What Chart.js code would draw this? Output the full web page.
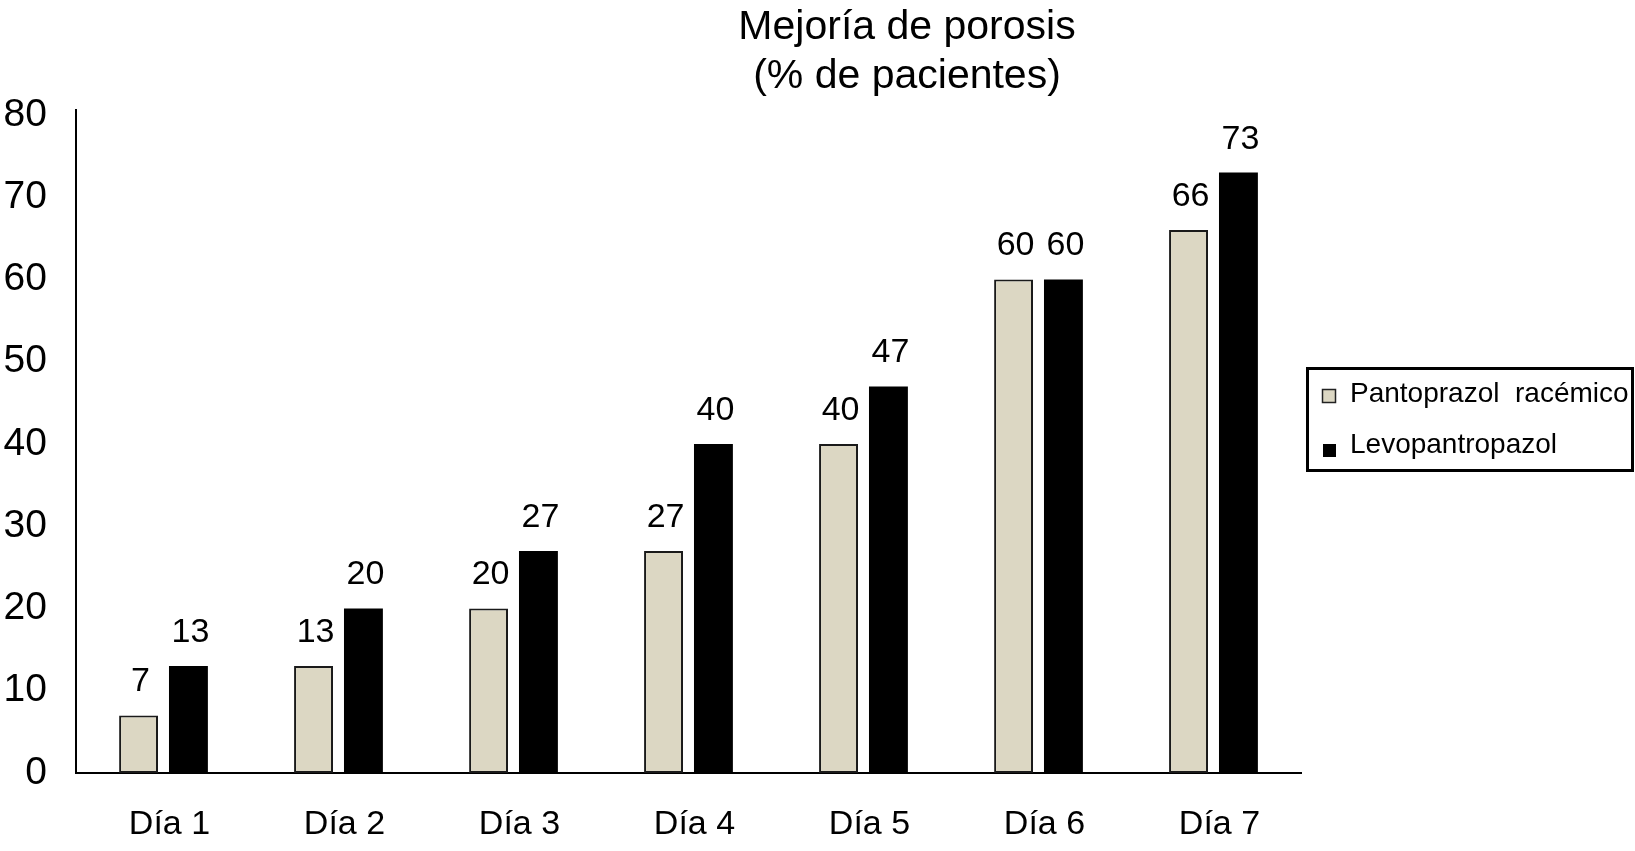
<!DOCTYPE html>
<html>
<head>
<meta charset="utf-8">
<script src="https://cdn.jsdelivr.net/npm/chart.js@4.4.1/dist/chart.umd.min.js"></script>
<style>
html,body{margin:0;padding:0;background:#ffffff;}
#wrap{width:1635px;height:851px;position:relative;}
</style>
</head>
<body>
<div id="wrap"><canvas id="c" width="1635" height="851"></canvas></div>
<script>
// ---- data ----
const categories = ['Día 1', 'Día 2', 'Día 3', 'Día 4', 'Día 5', 'Día 6', 'Día 7'];
const seriesNames = ['Pantoprazol  racémico', 'Levopantropazol'];
const racemicoValues = [7, 13, 20, 27, 40, 60, 66];
const levoValues = [13, 20, 27, 40, 47, 60, 73];
const yTickValues = [0, 10, 20, 30, 40, 50, 60, 70, 80];
const titleLines = ['Mejoría de porosis', '(% de pacientes)'];

// ---- styles ----
const FONT = '"Liberation Sans", Arial, Helvetica, sans-serif';
const paleColor = '#dcd7c3';
const darkColor = '#000000';

const valueLabels = {
  id: 'valueLabels',
  afterDatasetsDraw(chart) {
    const ctx = chart.ctx;
    ctx.save();
    ctx.fillStyle = '#000';
    ctx.font = '34px ' + FONT;
    ctx.textAlign = 'center';
    ctx.textBaseline = 'alphabetic';
    chart.data.datasets.forEach((ds, di) => {
      const meta = chart.getDatasetMeta(di);
      meta.data.forEach((el, i) => {
        ctx.fillText(String(ds.data[i]), el.x + 2, el.y - 24);
      });
    });
    ctx.restore();
  }
};

const titlePlugin = {
  id: 'customTitle',
  afterDraw(chart) {
    const ctx = chart.ctx;
    ctx.save();
    ctx.fillStyle = '#000';
    ctx.font = '41px ' + FONT;
    ctx.textAlign = 'center';
    ctx.textBaseline = 'alphabetic';
    ctx.fillText(titleLines[0], 907, 39);
    ctx.fillText(titleLines[1], 907, 88);
    ctx.restore();
  }
};

const legendPlugin = {
  id: 'customLegend',
  afterDraw(chart) {
    const ctx = chart.ctx;
    ctx.save();
    ctx.strokeStyle = '#000';
    ctx.lineWidth = 3;
    ctx.strokeRect(1307.5, 368.5, 325, 102);
    const ds = chart.data.datasets;
    ctx.fillStyle = ds[0].backgroundColor;
    ctx.fillRect(1322, 389, 14, 14);
    ctx.lineWidth = 1.5;
    ctx.strokeStyle = '#222';
    ctx.strokeRect(1322.5, 389.5, 13, 13);
    ctx.fillStyle = ds[1].backgroundColor;
    ctx.fillRect(1323, 444, 13, 13);
    ctx.fillStyle = '#000';
    ctx.font = '28px ' + FONT;
    ctx.textAlign = 'left';
    ctx.textBaseline = 'alphabetic';
    ctx.fillText(ds[0].label, 1350, 402);
    ctx.fillText(ds[1].label, 1350, 453);
    ctx.restore();
  }
};

new Chart(document.getElementById('c'), {
  type: 'bar',
  data: {
    labels: categories,
    datasets: [
      {
        label: seriesNames[0],
        data: racemicoValues,
        backgroundColor: paleColor,
        borderColor: '#1a1a1a',
        borderWidth: 2,
        borderSkipped: false,
        categoryPercentage: 0.57,
        barPercentage: 0.78
      },
      {
        label: seriesNames[1],
        data: levoValues,
        backgroundColor: darkColor,
        borderColor: darkColor,
        borderWidth: 0,
        categoryPercentage: 0.57,
        barPercentage: 0.78
      }
    ]
  },
  options: {
    responsive: false,
    animation: false,
    devicePixelRatio: 1,
    layout: { padding: { top: 110, right: 334, left: 0, bottom: 0 } },
    plugins: {
      legend: { display: false },
      title: { display: false },
      tooltip: { enabled: false }
    },
    scales: {
      x: {
        grid: { display: false, drawTicks: false },
        border: { display: true, color: '#000', width: 2 },
        ticks: {
          color: '#000',
          font: { family: FONT, size: 34 },
          padding: 31,
          labelOffset: 6,
          maxRotation: 0,
          autoSkip: false
        },
        afterFit(s) { s.height = 78; }
      },
      y: {
        min: 0,
        max: 80.6,
        grid: { display: false, drawTicks: false },
        border: { display: true, color: '#000', width: 2 },
        afterBuildTicks(s) { s.ticks = yTickValues.map(v => ({ value: v })); },
        ticks: {
          autoSkip: false,
          color: '#000',
          font: { family: FONT, size: 39 },
          padding: 29
        },
        afterFit(s) { s.width = 76; }
      }
    }
  },
  plugins: [valueLabels, titlePlugin, legendPlugin]
});
</script>
</body>
</html>
